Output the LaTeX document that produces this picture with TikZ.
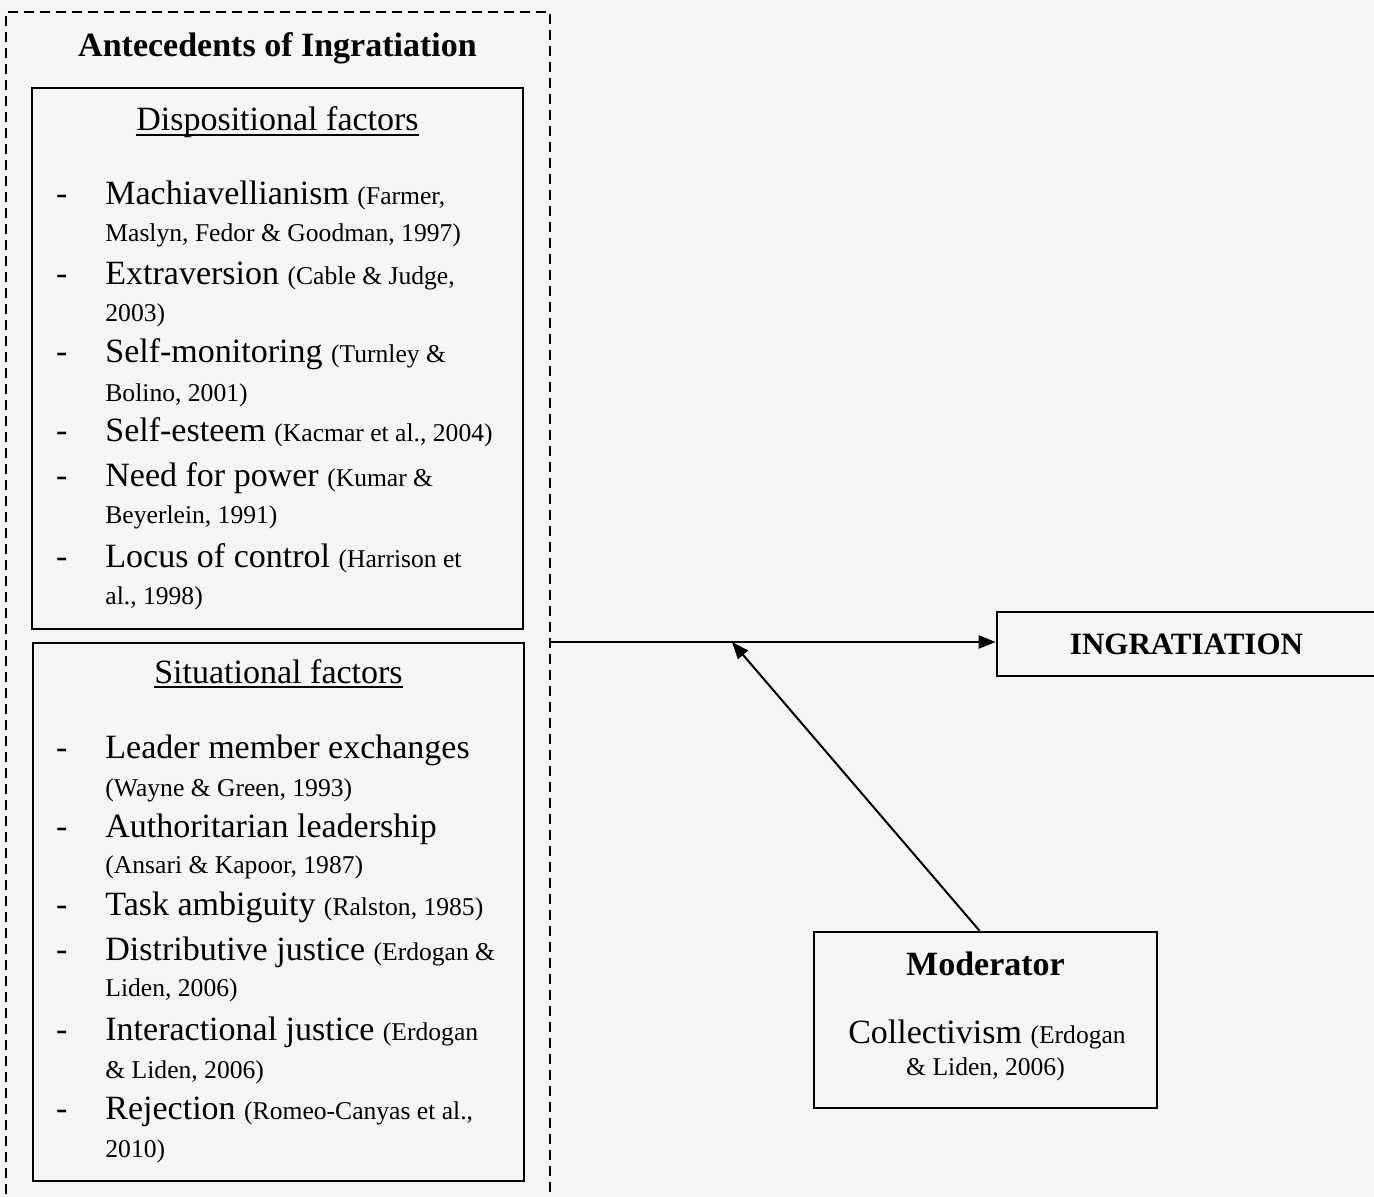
\documentclass[tikz,border=0pt]{standalone}
\usepackage{fontspec}
\setmainfont{Liberation Serif}
\usetikzlibrary{positioning,arrows.meta,calc,fit}

\newcommand{\bigsz}{\fontsize{17pt}{20pt}\selectfont}
\newcommand{\refsz}{\fontsize{12.8pt}{15pt}\selectfont}
\newcommand{\puce}{\llap{-\hspace{19pt}}}

\begin{document}
\begin{tikzpicture}[
    x=0.5pt, y=-0.5pt, >={Triangle[length=8.5pt,width=6.5pt]},
    cadre/.style={draw, line width=1.3pt, inner sep=0pt},
    groupe/.style={draw, line width=1pt, dash pattern=on 5pt off 3pt},
    fleche/.style={->, line width=1pt},
    txt/.style={anchor=base west, inner sep=0pt, font=\bigsz},
    ref/.style={txt, font=\refsz},
    titre/.style={anchor=base, inner sep=0pt, font=\bigsz\bfseries},
    entete/.style={anchor=base, inner sep=0pt, font=\bigsz},
    souligne/.style={line width=0.9pt},
  ]
  \useasboundingbox (0,0) rectangle (1374,1197);
  \clip (0,0) rectangle (1374,1197);
  \fill[black!4] (0,0) rectangle (1374,1197);

  % --- Antecedents (groupe en pointilles) ---
  \draw[groupe] (6,1210) -- (6,12) -- (550,12) -- (550,1210);
  \node[titre] (ante) at (277.5,57) {Antecedents of Ingratiation};

  % Dispositional factors
  \node[cadre, fit={(32,88) (523,629)}] (disp) {};
  \node[entete] (disph) at (277.5,131) {Dispositional factors};
  \draw[souligne] ($(disph.base west)+(0,4)$) -- ($(disph.base east)+(0,4)$);
  \foreach \y/\a/\b [count=\i] in {
      205/Machiavellianism/{(Farmer,},
      285/Extraversion/{(Cable \& Judge,},
      363/Self-monitoring/{(Turnley \&},
      442/Self-esteem/{(Kacmar et al., 2004)},
      486/Need for power/{(Kumar \&},
      567/Locus of control/{(Harrison et}}
    \node[txt] (d\i) at (105,\y) {\puce\a\ {\refsz\b}};
  \foreach \y/\b [count=\i] in {
      242/{Maslyn, Fedor \& Goodman, 1997)},
      322/{2003)}, 401/{Bolino, 2001)},
      523/{Beyerlein, 1991)}, 604/{al., 1998)}}
    \node[ref] (dr\i) at (105,\y) {\b};

  % Situational factors
  \node[cadre, fit={(33,643) (524,1181)}] (situ) {};
  \node[entete] (situh) at (278.5,683) {Situational factors};
  \draw[souligne] ($(situh.base west)+(0,4)$) -- ($(situh.base east)+(0,4)$);
  \foreach \y/\a/\b [count=\i] in {
      758/Leader member exchanges/{},
      837/Authoritarian leadership/{},
      915/Task ambiguity/{(Ralston, 1985)},
      960/Distributive justice/{(Erdogan \&},
      1040/Interactional justice/{(Erdogan},
      1119/Rejection/{(Romeo-Canyas et al.,}}
    \node[txt] (s\i) at (105,\y) {\puce\a\ {\refsz\b}};
  \foreach \y/\b [count=\i] in {
      796/{(Wayne \& Green, 1993)},
      873/{(Ansari \& Kapoor, 1987)},
      996/{Liden, 2006)},
      1078/{\& Liden, 2006)},
      1157/{2010)}}
    \node[ref] (sr\i) at (105,\y) {\b};

  % --- Resultat ---
  \node[cadre, minimum width=189.5pt, minimum height=32pt,
        font=\fontsize{15.5pt}{18pt}\selectfont\bfseries] (ingr) at (1186.5,644) {INGRATIATION};

  % --- Moderateur ---
  \node[cadre, fit={(814,932) (1157,1108)}] (moder) {};
  \node[titre] (modt) at (985.5,975) {Moderator};
  \node[entete] (modc) at (987,1043) {Collectivism {\refsz (Erdogan}};
  \node[entete, font=\refsz] (modr) at (985.5,1075) {\& Liden, 2006)};

  % Liaisons
  \coordinate (sortie) at (550,642);
  \coordinate (jonction) at (732,642);
  \draw[fleche] (sortie) -- (sortie -| ingr.west);
  \draw[fleche] ($(moder.north)+(-6,0)$) -- (jonction);
\end{tikzpicture}
\end{document}
